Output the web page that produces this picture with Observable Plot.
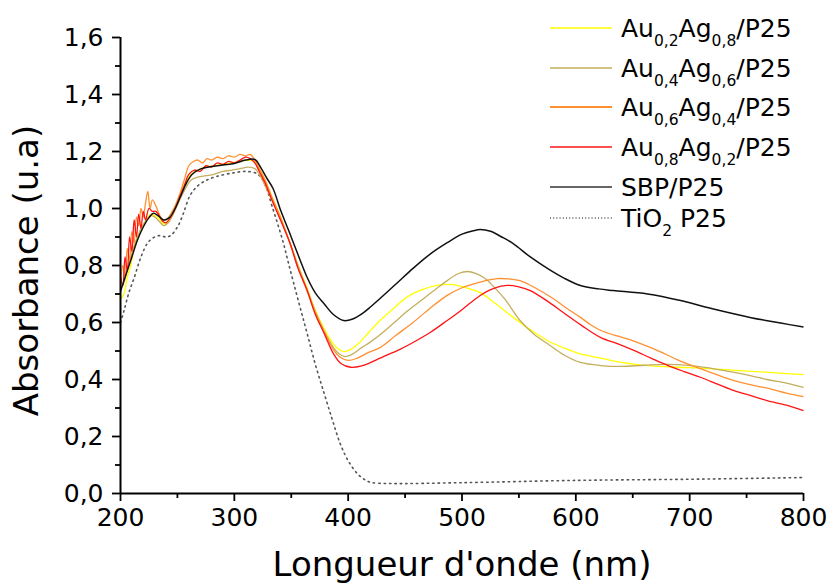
<!DOCTYPE html>
<html>
<head>
<meta charset="utf-8">
<script src="https://cdn.jsdelivr.net/npm/d3@7"></script>
<script src="https://cdn.jsdelivr.net/npm/@observablehq/plot@0.6"></script>
<style>
  html, body { margin: 0; padding: 0; background: #fff; }
  #chart { width: 828px; height: 583px; }
</style>
</head>
<body>
<div id="chart"></div>
<script>
// ---------- data ----------
const xMajorTicks = [200, 300, 400, 500, 600, 700, 800];
const xMinorTicks = [250, 350, 450, 550, 650, 750];
const yMajorTicks = [0, 0.2, 0.4, 0.6, 0.8, 1.0, 1.2, 1.4, 1.6];
const yMinorTicks = [0.1, 0.3, 0.5, 0.7, 0.9, 1.1, 1.3, 1.5];

const seriesNames = ["Au0,2Ag0,8/P25", "Au0,4Ag0,6/P25", "Au0,6Ag0,4/P25", "Au0,8Ag0,2/P25", "SBP/P25", "TiO2 P25"];
const seriesColors = ["#FFFF00", "#C4AE5E", "#FF9030", "#FF1414", "#111111", "#555555"];

const au02ag08 = [[200,0.68],[203,0.70],[206,0.76],[209,0.80],[212,0.86],[215,0.90],[218,0.92],[221,0.95],[224,0.97],[227,0.98],[230,0.975],[234,0.965],[238,0.945],[242,0.955],[247,0.99],[252,1.04],[257,1.09],[262,1.12],[268,1.135],[275,1.145],[282,1.15],[290,1.155],[298,1.16],[305,1.165],[312,1.17],[318,1.165],[322,1.14],[327,1.10],[333,1.04],[341,0.965],[349,0.877],[356,0.80],[364,0.72],[371,0.645],[379,0.578],[387,0.525],[392,0.505],[396,0.498],[402,0.505],[410,0.53],[418,0.565],[428,0.607],[440,0.65],[452,0.69],[465,0.715],[478,0.73],[492,0.733],[505,0.72],[516,0.705],[530,0.665],[545,0.618],[560,0.575],[575,0.537],[590,0.51],[604,0.49],[622,0.475],[640,0.46],[663,0.449],[690,0.443],[710,0.44],[740,0.432],[770,0.425],[800,0.417]];

const au04ag06 = [[200,0.72],[203,0.74],[206,0.79],[209,0.83],[212,0.87],[215,0.90],[218,0.93],[221,0.95],[224,0.965],[227,0.975],[230,0.97],[234,0.955],[238,0.94],[242,0.95],[247,0.985],[252,1.03],[257,1.07],[262,1.10],[268,1.11],[275,1.115],[282,1.12],[290,1.13],[298,1.135],[305,1.14],[312,1.145],[318,1.14],[322,1.12],[327,1.08],[333,1.03],[341,0.96],[349,0.877],[356,0.80],[364,0.715],[371,0.64],[379,0.57],[387,0.513],[392,0.49],[397,0.48],[403,0.487],[412,0.512],[420,0.533],[428,0.557],[440,0.598],[452,0.64],[465,0.68],[478,0.72],[487,0.747],[497,0.772],[505,0.779],[512,0.772],[520,0.755],[528,0.725],[538,0.68],[551,0.607],[563,0.56],[575,0.526],[590,0.485],[604,0.46],[622,0.449],[640,0.446],[660,0.45],[681,0.453],[707,0.446],[725,0.435],[739,0.425],[755,0.412],[768,0.40],[785,0.387],[800,0.372]];

const au06ag04 = [[200,0.74],[202,0.80],[204,0.76],[206,0.86],[208,0.82],[210,0.92],[212,0.88],[214,0.97],[216,0.94],[218,1.00],[220,0.97],[222,1.02],[224,1.06],[226,1.00],[228,1.03],[231,1.01],[234,0.98],[237,0.96],[240,0.96],[244,0.98],[248,1.01],[252,1.05],[256,1.10],[260,1.15],[264,1.165],[268,1.17],[272,1.16],[276,1.175],[280,1.17],[285,1.18],[290,1.175],[295,1.185],[300,1.18],[305,1.19],[310,1.185],[314,1.19],[318,1.17],[322,1.14],[327,1.10],[333,1.04],[341,0.965],[349,0.877],[356,0.79],[364,0.71],[371,0.635],[379,0.565],[387,0.505],[393,0.478],[400,0.467],[408,0.475],[418,0.495],[428,0.512],[442,0.555],[457,0.60],[472,0.65],[487,0.695],[500,0.722],[516,0.742],[531,0.754],[541,0.753],[551,0.747],[565,0.72],[580,0.684],[592,0.65],[604,0.618],[613,0.592],[622,0.572],[637,0.552],[651,0.535],[670,0.505],[689,0.47],[710,0.437],[725,0.415],[739,0.396],[755,0.38],[770,0.368],[785,0.352],[800,0.34]];

const au08ag02 = [[200,0.76],[202,0.73],[204,0.83],[206,0.78],[208,0.90],[210,0.85],[212,0.96],[214,0.90],[216,0.98],[218,0.93],[220,0.99],[222,0.96],[225,1.00],[228,0.99],[231,0.99],[234,0.975],[237,0.955],[240,0.95],[244,0.97],[248,1.00],[252,1.04],[256,1.08],[260,1.12],[265,1.135],[270,1.13],[275,1.15],[280,1.145],[285,1.16],[290,1.155],[295,1.165],[300,1.16],[305,1.17],[310,1.18],[314,1.175],[318,1.16],[322,1.13],[327,1.09],[333,1.03],[341,0.955],[349,0.877],[356,0.79],[364,0.712],[371,0.63],[379,0.561],[387,0.491],[394,0.455],[402,0.443],[412,0.448],[420,0.46],[428,0.475],[445,0.505],[457,0.53],[472,0.565],[487,0.607],[500,0.645],[516,0.695],[528,0.72],[540,0.73],[550,0.725],[560,0.712],[575,0.675],[589,0.635],[605,0.59],[622,0.547],[637,0.525],[651,0.502],[666,0.475],[681,0.449],[695,0.428],[710,0.407],[725,0.383],[739,0.361],[755,0.342],[768,0.326],[785,0.31],[800,0.291]];

const sbpP25 = [[200,0.71],[205,0.77],[210,0.83],[215,0.89],[220,0.935],[225,0.968],[229,0.983],[233,0.975],[238,0.96],[243,0.968],[248,1.00],[253,1.045],[258,1.09],[263,1.12],[270,1.138],[280,1.147],[290,1.153],[300,1.158],[310,1.17],[318,1.172],[323,1.145],[328,1.11],[334,1.07],[341,0.99],[348,0.92],[358,0.817],[364,0.758],[371,0.705],[379,0.665],[387,0.628],[396,0.607],[404,0.612],[412,0.63],[420,0.656],[428,0.684],[442,0.735],[457,0.79],[472,0.84],[487,0.88],[500,0.91],[510,0.922],[516,0.926],[525,0.92],[535,0.90],[545,0.877],[560,0.83],[575,0.79],[590,0.755],[604,0.73],[620,0.718],[633,0.712],[663,0.70],[692,0.677],[720,0.648],[754,0.617],[780,0.598],[800,0.584]];

const tio2P25 = [[200,0.60],[203,0.64],[207,0.70],[212,0.757],[218,0.83],[224,0.88],[230,0.90],[235,0.905],[240,0.90],[244,0.905],[250,0.935],[255,0.98],[261,1.045],[268,1.08],[276,1.10],[285,1.113],[299,1.125],[311,1.13],[320,1.122],[325,1.10],[329,1.063],[333,1.01],[338,0.947],[343,0.88],[347,0.817],[352,0.74],[358,0.65],[364,0.561],[371,0.455],[379,0.35],[386,0.26],[393,0.175],[400,0.115],[408,0.07],[414,0.05],[420,0.039],[437,0.035],[500,0.038],[600,0.046],[700,0.05],[800,0.056]];

const seriesData = [au02ag08, au04ag06, au06ag04, au08ag02, sbpP25, tio2P25];

// ---------- build ----------
const toRows = (arr) => arr.map(([nm, a]) => ({nm, a}));
const fmtComma = (d) => d.toFixed(1).replace(".", ",");

// drawing order: dotted first, colored, black on top
const order = [5, 0, 1, 2, 3, 4];
const lineMarks = order.map(i => Plot.line(toRows(seriesData[i]), {
  x: "nm", y: "a",
  stroke: seriesColors[i],
  strokeWidth: i === 5 ? 1.6 : (i === 4 ? 1.5 : 1.3),
  strokeDasharray: i === 5 ? "1.4,4" : null,
  strokeLinecap: i === 5 ? "round" : "butt",
  curve: "catmull-rom"
}));

const chart = Plot.plot({
  width: 828,
  height: 583,
  marginLeft: 120,
  marginRight: 25,
  marginTop: 37,
  marginBottom: 90,
  style: {fontFamily: "'DejaVu Sans', sans-serif", background: "#fff", color: "#000"},
  x: {domain: [200, 800]},
  y: {domain: [0, 1.6]},
  marks: [
    ...lineMarks,
    Plot.ruleX([200], {stroke: "#000", strokeWidth: 2}),
    Plot.ruleY([0], {stroke: "#000", strokeWidth: 2}),
    Plot.axisX({ticks: xMajorTicks, tickSize: 8, tickPadding: 7, fontSize: 25, strokeWidth: 1.8, label: null, tickFormat: d => String(d)}),
    Plot.axisX({ticks: xMinorTicks, tickSize: 5, strokeWidth: 1.8, label: null, tickFormat: () => ""}),
    Plot.axisY({ticks: yMajorTicks, tickSize: 8, tickPadding: 9, fontSize: 25, strokeWidth: 1.8, label: null, tickFormat: fmtComma}),
    Plot.axisY({ticks: yMinorTicks, tickSize: 5, strokeWidth: 1.8, label: null, tickFormat: () => ""}),
    Plot.text(["Absorbance (u.a)"], {frameAnchor: "left", textAnchor: "middle", lineAnchor: "middle", text: d => d, rotate: -90, dx: -93, dy: 5, fontSize: 34, fill: "#000"}),
    Plot.text(["Longueur d'onde (nm)"], {frameAnchor: "bottom", textAnchor: "middle", text: d => d, lineAnchor: "bottom", dy: 82, fontSize: 34, fill: "#000"})
  ]
});

document.getElementById("chart").appendChild(chart);

// ---------- legend (overlaid inside the SVG, top right) ----------
const svg = d3.select(chart);
const lg = svg.append("g")
  .attr("font-family", "'DejaVu Sans', sans-serif")
  .attr("fill", "#000")
  .attr("text-anchor", "start");
const rowY = [28, 68, 107, 147, 187, 218];
const legendParts = [
  [["Au", 0], ["0,2", 1], ["Ag", 0], ["0,8", 1], ["/P25", 0]],
  [["Au", 0], ["0,4", 1], ["Ag", 0], ["0,6", 1], ["/P25", 0]],
  [["Au", 0], ["0,6", 1], ["Ag", 0], ["0,4", 1], ["/P25", 0]],
  [["Au", 0], ["0,8", 1], ["Ag", 0], ["0,2", 1], ["/P25", 0]],
  [["SBP/P25", 0]],
  [["TiO", 0], ["2", 1], [" P25", 0]]
];
const legendWidths = [1.5, 1.5, 2.2, 1.3, 2.2, 1.4];
legendParts.forEach((parts, i) => {
  const y = rowY[i];
  lg.append("line")
    .attr("x1", 550).attr("x2", 612).attr("y1", y).attr("y2", y)
    .attr("stroke", i === 4 ? "#666" : seriesColors[i])
    .attr("stroke-width", legendWidths[i])
    .attr("stroke-dasharray", i === 5 ? "1,2.2" : null);
  const t = lg.append("text")
    .attr("x", 621).attr("y", y + 8.5)
    .attr("font-size", 25)
    .attr("text-anchor", "start")
    .style("white-space", "pre");
  let prevSub = 0;
  parts.forEach(([s, sub]) => {
    const shift = (sub - prevSub) * 9;
    t.append("tspan")
      .attr("dy", shift)
      .attr("font-size", sub ? 15.5 : 25)
      .text(s);
    prevSub = sub;
  });
});
</script>
</body>
</html>
